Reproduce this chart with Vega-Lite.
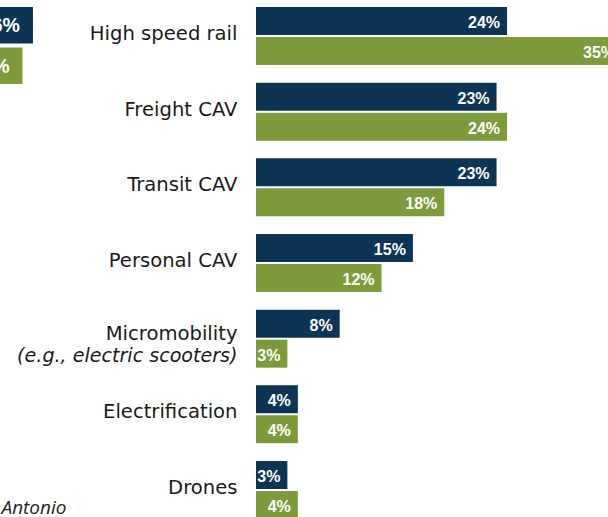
{
  "$schema": "https://vega.github.io/schema/vega-lite/v6.json",
  "padding": {"left": -239, "top": 0, "right": -28, "bottom": -9},
  "background": "white",
  "bounds": "flush",
  "spacing": 190,
  "config": {"view": {"stroke": null}},
  "resolve": {"scale": {"yOffset": "independent", "xOffset": "independent"}},
  "hconcat": [
    {
      "width": 305,
      "height": 91,
      "data": {"values": [
        {"row": "Total", "group": "A", "value": 0.26},
        {"row": "Total", "group": "B", "value": 0.25}
      ]},
      "encoding": {
        "y": {"field": "row", "type": "nominal", "axis": null, "scale": {"paddingInner": 0, "paddingOuter": 0.0909}},
        "yOffset": {"field": "group", "type": "nominal", "sort": ["A", "B"], "scale": {"paddingInner": 0.0988, "paddingOuter": 0}},
        "x": {"field": "value", "type": "quantitative", "scale": {"domain": [0, 0.29159], "nice": false, "zero": true},
          "axis": {"labels": false, "ticks": false, "domain": false, "grid": false, "title": "San Antonio", "titleFont": "Open Sans", "titleFontStyle": "italic", "titleFontWeight": "normal", "titleFontSize": 19, "titleColor": "#1e1e1e", "titleAnchor": "end", "titlePadding": 407}}
      },
      "layer": [
        {"mark": {"type": "bar"},
         "encoding": {"color": {"field": "group", "type": "nominal", "scale": {"domain": ["A", "B"], "range": ["#0b3455", "#7e9b3c"]}, "legend": null}}},
        {"mark": {"type": "text", "align": "right", "baseline": "middle", "dx": -13, "dy": 1, "font": "Liberation Sans", "fontWeight": "bold", "fontSize": 19.5, "color": "white"},
         "encoding": {"text": {"field": "value", "type": "quantitative", "format": ".0%"}}}
      ]
    },
    {
      "width": 380,
      "height": 526,
      "data": {"values": [
        {"cat": "High speed rail", "group": "A", "value": 0.24},
        {"cat": "High speed rail", "group": "B", "value": 0.35},
        {"cat": "Freight CAV", "group": "A", "value": 0.23},
        {"cat": "Freight CAV", "group": "B", "value": 0.24},
        {"cat": "Transit CAV", "group": "A", "value": 0.23},
        {"cat": "Transit CAV", "group": "B", "value": 0.18},
        {"cat": "Personal CAV", "group": "A", "value": 0.15},
        {"cat": "Personal CAV", "group": "B", "value": 0.12},
        {"cat": "Micromobility", "group": "A", "value": 0.08},
        {"cat": "Micromobility", "group": "B", "value": 0.03},
        {"cat": "Electrification", "group": "A", "value": 0.04},
        {"cat": "Electrification", "group": "B", "value": 0.04},
        {"cat": "Drones", "group": "A", "value": 0.03},
        {"cat": "Drones", "group": "B", "value": 0.04}
      ]},
      "layer": [
        {
          "mark": {"type": "bar"},
          "encoding": {
            "y": {"field": "cat", "type": "nominal",
              "sort": ["High speed rail", "Freight CAV", "Transit CAV", "Personal CAV", "Micromobility", "Electrification", "Drones"],
              "scale": {"paddingInner": 0.234, "paddingOuter": 0.0925},
              "axis": {"orient": "left", "title": null, "domain": false, "ticks": false, "grid": false, "labelPadding": 19, "labelLimit": 300,
                "labelFont": "DejaVu Sans", "labelFontSize": 19.6, "labelColor": "#1a1a1a",
                "labelOffset": {"condition": {"test": "datum.value == 'Micromobility'", "value": -5}, "value": -2}}},
            "yOffset": {"field": "group", "type": "nominal", "sort": ["A", "B"], "scale": {"paddingInner": 0.0667, "paddingOuter": 0}},
            "x": {"field": "value", "type": "quantitative", "scale": {"domain": [0, 0.36329], "nice": false, "zero": true}, "axis": null},
            "color": {"field": "group", "type": "nominal", "scale": {"domain": ["A", "B"], "range": ["#0b3455", "#7e9b3c"]}, "legend": null}
          }
        },
        {
          "mark": {"type": "text", "align": "right", "baseline": "middle", "dx": -7, "dy": 2, "font": "Liberation Sans", "fontWeight": "bold", "fontSize": 16, "color": "white"},
          "encoding": {
            "y": {"field": "cat", "type": "nominal",
              "sort": ["High speed rail", "Freight CAV", "Transit CAV", "Personal CAV", "Micromobility", "Electrification", "Drones"],
              "scale": {"paddingInner": 0.234, "paddingOuter": 0.0925},
              "axis": {"orient": "left", "title": null, "domain": false, "ticks": false, "grid": false, "labelPadding": 19, "labelLimit": 300,
                "labelFont": "DejaVu Sans", "labelFontSize": 19.1, "labelFontStyle": "italic", "labelColor": "#1a1a1a", "labelOffset": 17,
                "labelExpr": "datum.value == 'Micromobility' ? '(e.g., electric scooters)' : ''"}},
            "yOffset": {"field": "group", "type": "nominal", "sort": ["A", "B"], "scale": {"paddingInner": 0.0667, "paddingOuter": 0}},
            "x": {"field": "value", "type": "quantitative", "scale": {"domain": [0, 0.36329], "nice": false, "zero": true}},
            "text": {"field": "value", "type": "quantitative", "format": ".0%"}
          }
        }
      ],
      "resolve": {"axis": {"y": "independent"}}
    }
  ]
}
